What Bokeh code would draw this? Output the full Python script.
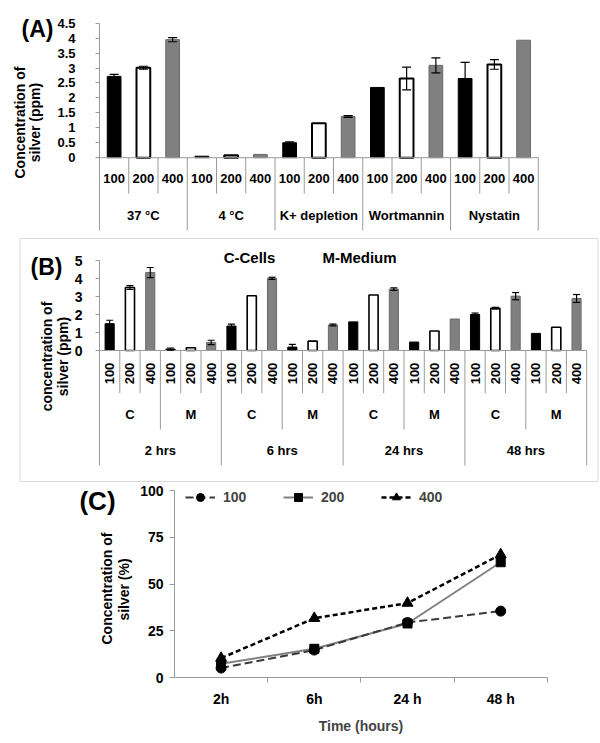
from math import pi
from bokeh.plotting import figure
from bokeh.models import (ColumnDataSource, Range1d, FixedTicker, NumeralTickFormatter,
                          Label, Legend, LegendItem, Whisker, TeeHead)
from bokeh.layouts import column
from bokeh.embed import file_html
from bokeh.resources import INLINE
from bokeh.core.properties import value

FONT = "Liberation Sans"
GRID = "#9a9a9a"
W = 600

# ---------------- Panel A data ----------------
a_groups = ["37 °C", "4 °C", "K+ depletion", "Wortmannin", "Nystatin"]
doses = ["100", "200", "400"]
a_100 = [2.72, 0.05, 0.50, 2.35, 2.65]
a_200 = [3.01, 0.08, 1.15, 2.65, 3.12]
a_400 = [3.95, 0.11, 1.38, 3.09, 3.93]
a_100_err = [0.07, 0.0, 0.03, 0.0, 0.54]
a_200_err = [0.05, 0.0, 0.0, 0.38, 0.16]
a_400_err = [0.07, 0.0, 0.03, 0.25, 0.0]
a_yticks = [0, 0.5, 1, 1.5, 2, 2.5, 3, 3.5, 4, 4.5]

# ---------------- Panel B data ----------------
b_times = ["2 hrs", "6 hrs", "24 hrs", "48 hrs"]
b_media = ["C", "M"]
b_c_100 = [1.49, 1.36, 1.59, 2.00]
b_c_200 = [3.50, 3.04, 3.08, 2.35]
b_c_400 = [4.33, 4.01, 3.41, 3.02]
b_m_100 = [0.08, 0.19, 0.47, 0.95]
b_m_200 = [0.15, 0.52, 1.08, 1.29]
b_m_400 = [0.45, 1.42, 1.75, 2.89]
b_c_100_err = [0.19, 0.10, 0.0, 0.08]
b_c_200_err = [0.10, 0.0, 0.0, 0.05]
b_c_400_err = [0.28, 0.06, 0.07, 0.20]
b_m_100_err = [0.06, 0.15, 0.0, 0.0]
b_m_200_err = [0.0, 0.0, 0.0, 0.0]
b_m_400_err = [0.12, 0.05, 0.0, 0.22]
b_yticks = [0, 1, 2, 3, 4, 5]
b_legend = ["C-Cells", "M-Medium"]

# ---------------- Panel C data ----------------
c_times = ["2h", "6h", "24 h", "48 h"]
c_100 = [5.2, 14.8, 29.5, 35.6]
c_200 = [7.5, 15.5, 29.0, 61.7]
c_400 = [10.5, 31.8, 39.9, 65.8]
c_yticks = [0, 25, 50, 75, 100]

FILL = {"100": "black", "200": "white", "400": "#808080"}
EDGE = {"100": "black", "200": "black", "400": "#6a6a6a"}


class Panel:
    """Pixel geometry of one panel: page top, height, pixel of data origin, px per unit."""
    def __init__(self, top, h, x0, xu, y0, yu):
        self.top, self.h, self.x0, self.xu, self.y0, self.yu = top, h, x0, xu, y0, yu

    def dx(self, px):
        return (px - self.x0) / self.xu

    def dy(self, py):
        return (self.y0 - (py - self.top)) / self.yu

    def fig(self, **kw):
        p = figure(width=W, height=self.h,
                   x_range=Range1d(self.dx(0), self.dx(W)),
                   y_range=Range1d(self.dy(self.top + self.h), self.dy(self.top)),
                   output_backend="svg", toolbar_location=None, min_border=0,
                   outline_line_color=None, background_fill_color="white",
                   border_fill_color="white", **kw)
        p.grid.visible = False
        return p

    def label(self, p, px, py, text, size, angle=0.0, bold=True):
        p.add_layout(Label(x=self.dx(px), y=self.dy(py), text=text, text_font=FONT,
                           text_font_size=f"{size}px",
                           text_font_style="bold" if bold else "normal",
                           text_align="center", text_baseline="middle", angle=angle,
                           text_color="black"))


def style_axis(ax, size, standoff, tick_out):
    ax.axis_line_color = GRID
    ax.major_tick_line_color = GRID
    ax.major_tick_out = tick_out
    ax.major_tick_in = 0
    ax.minor_tick_line_color = None
    ax.major_label_text_font = FONT
    ax.major_label_text_font_style = "bold"
    ax.major_label_text_font_size = f"{size}px"
    ax.major_label_standoff = standoff
    ax.major_label_text_color = "black"


def add_err(p, xs, tops, errs, head):
    ex, lo, hi = [], [], []
    for x, t, e in zip(xs, tops, errs):
        if e > 0:
            ex.append(x); lo.append(t - e); hi.append(t + e)
    if not ex:
        return
    src = ColumnDataSource(dict(x=ex, lo=lo, hi=hi))
    p.add_layout(Whisker(source=src, base="x", lower="lo", upper="hi", dimension="height",
                         line_color="black", line_width=1.2, level="annotation",
                         upper_head=TeeHead(size=head, line_color="black", line_width=1.2),
                         lower_head=TeeHead(size=head, line_color="black", line_width=1.2)))


def table_text(p, xs, y, texts, size, angle=0.0):
    p.text(x=xs, y=[y] * len(xs), text=texts, angle=angle, text_align="center",
           text_baseline="middle", text_font=value(FONT), text_font_style="bold",
           text_font_size=f"{size}px", text_color="black")


# ======================= Panel A =======================
PA = Panel(top=0, h=237, x0=99, xu=29.25, y0=157.2, yu=29.89)
nd = len(doses)
nA = len(a_groups) * nd
pA = PA.fig(x_axis_location=None)
a_vals = {"100": a_100, "200": a_200, "400": a_400}
a_errs = {"100": a_100_err, "200": a_200_err, "400": a_400_err}
for di, d in enumerate(doses):
    xs = [gi * nd + di + 0.5 for gi in range(len(a_groups))]
    pA.vbar(x=xs, top=a_vals[d], bottom=0, width=0.47, fill_color=FILL[d],
            line_color=EDGE[d], line_width=2 if d == "200" else 1)
    add_err(pA, xs, a_vals[d], a_errs[d], 9)

a_bottom = PA.dy(230)
sub_x = [i for i in range(1, nA) if i % nd]
grp_x = [i for i in range(nd, nA + 1, nd)]
pA.segment(x0=sub_x, y0=0, x1=sub_x, y1=PA.dy(193), line_color=GRID, line_width=1)
pA.segment(x0=grp_x, y0=0, x1=grp_x, y1=a_bottom, line_color=GRID, line_width=1)
pA.segment(x0=[0], y0=[0], x1=[nA], y1=[0], line_color=GRID, line_width=1)
table_text(pA, [i + 0.5 for i in range(nA)], PA.dy(178), doses * len(a_groups), 13)
table_text(pA, [gi * nd + nd / 2 for gi in range(len(a_groups))], PA.dy(215), a_groups, 13)

ya = pA.yaxis[0]
style_axis(ya, 13, 20, 4)
ya.ticker = FixedTicker(ticks=a_yticks)
ya.formatter = NumeralTickFormatter(format="0.[0]")
ya.fixed_location = 0
ya.bounds = (a_bottom, max(a_yticks))

PA.label(pA, 37, 28, "(A)", 23)
PA.label(pA, 19, 122, "Concentration of", 14, pi / 2)
PA.label(pA, 34, 122, "silver (ppm)", 14, pi / 2)

# ======================= Panel B =======================
PB = Panel(top=237, h=245, x0=99, xu=20.3, y0=113, yu=18.0)
nB = len(b_times) * len(b_media) * nd
pB = PB.fig(x_axis_location=None)
# light frame around panel B
pB.quad(left=[PB.dx(19.5)], right=[PB.dx(597.5)], top=[PB.dy(238)], bottom=[PB.dy(481)],
        fill_alpha=0, line_color="#d9d9d9", line_width=1)
b_vals = {("C", "100"): (b_c_100, b_c_100_err), ("C", "200"): (b_c_200, b_c_200_err),
          ("C", "400"): (b_c_400, b_c_400_err), ("M", "100"): (b_m_100, b_m_100_err),
          ("M", "200"): (b_m_200, b_m_200_err), ("M", "400"): (b_m_400, b_m_400_err)}
per_t = len(b_media) * nd
for mi, m in enumerate(b_media):
    for di, d in enumerate(doses):
        vals, errs = b_vals[(m, d)]
        xs = [ti * per_t + mi * nd + di + 0.5 for ti in range(len(b_times))]
        pB.vbar(x=xs, top=vals, bottom=0, width=0.45, fill_color=FILL[d],
                line_color=EDGE[d], line_width=1.6 if d == "200" else 1)
        add_err(pB, xs, vals, errs, 7)

b_bottom = PB.dy(465)
s1 = [i for i in range(1, nB) if i % nd]
s2 = [i for i in range(nd, nB) if i % per_t == nd]
s3 = [i for i in range(per_t, nB + 1, per_t)]
pB.segment(x0=s1, y0=0, x1=s1, y1=PB.dy(392.7), line_color=GRID, line_width=1)
pB.segment(x0=s2, y0=0, x1=s2, y1=PB.dy(429), line_color=GRID, line_width=1)
pB.segment(x0=s3, y0=0, x1=s3, y1=b_bottom, line_color=GRID, line_width=1)
pB.segment(x0=[0], y0=[0], x1=[nB], y1=[0], line_color=GRID, line_width=1)
table_text(pB, [i + 0.5 for i in range(nB)], PB.dy(373), doses * (nB // nd), 13, pi / 2)
table_text(pB, [k * nd + nd / 2 for k in range(nB // nd)], PB.dy(414),
           b_media * len(b_times), 13)
table_text(pB, [ti * per_t + per_t / 2 for ti in range(len(b_times))], PB.dy(450),
           b_times, 13)

yb = pB.yaxis[0]
style_axis(yb, 14, 13, 4)
yb.ticker = FixedTicker(ticks=b_yticks)
yb.fixed_location = 0
yb.bounds = (b_bottom, max(b_yticks))

PB.label(pB, 46, 266, "(B)", 23)
PB.label(pB, 249, 257, b_legend[0], 15)
PB.label(pB, 359, 257, b_legend[1], 15)
PB.label(pB, 46, 356, "concentration of", 14, pi / 2)
PB.label(pB, 62, 356, "silver (ppm)", 14, pi / 2)

# ======================= Panel C =======================
PC = Panel(top=482, h=258, x0=174, xu=93.2, y0=195.3, yu=1.873)
nC = len(c_times)
pC = PC.fig()
xs = [i + 0.5 for i in range(nC)]
l2 = pC.line(xs, c_200, line_color="#808080", line_width=2)
l1 = pC.line(xs, c_100, line_color="#3a3a3a", line_width=2, line_dash="8 4")
l3 = pC.line(xs, c_400, line_color="black", line_width=2.5, line_dash="5 3")
m1 = pC.scatter(xs, c_100, marker="circle", size=10, fill_color="black", line_color="black")
m2 = pC.scatter(xs, c_200, marker="square", size=9, fill_color="black", line_color="black")
m3 = pC.scatter(xs, c_400, marker="triangle", size=11, fill_color="black", line_color="black")

yc = pC.yaxis[0]
style_axis(yc, 14, 6, 5)
yc.ticker = FixedTicker(ticks=c_yticks)
yc.fixed_location = 0
yc.bounds = (0, max(c_yticks))

xc = pC.xaxis[0]
style_axis(xc, 14, 8, 0)
xc.major_tick_line_color = None
xc.ticker = FixedTicker(ticks=xs, minor_ticks=list(range(1, nC + 1)))
xc.minor_tick_line_color = GRID
xc.minor_tick_out = 5
xc.minor_tick_in = 0
xc.major_label_overrides = {x: t for x, t in zip(xs, c_times)}
xc.axis_label = "Time (hours)"
xc.axis_label_text_font = FONT
xc.axis_label_text_font_style = "bold"
xc.axis_label_text_font_size = "14px"
xc.axis_label_standoff = 8
xc.fixed_location = 0
xc.bounds = (0, nC)

legend = Legend(items=[LegendItem(label="100", renderers=[l1, m1]),
                       LegendItem(label="200", renderers=[l2, m2]),
                       LegendItem(label="400", renderers=[l3, m3])],
                orientation="horizontal", location=(185, PC.h - (507 - PC.top)),
                glyph_width=30, glyph_height=20, label_standoff=8, label_width=60,
                label_height=20, spacing=0, padding=0, margin=0, border_line_color=None,
                background_fill_alpha=0, label_text_font=FONT,
                label_text_font_style="bold", label_text_font_size="14px")
pC.add_layout(legend)

PC.label(pC, 97, 500, "(C)", 26)
PC.label(pC, 106, 588, "Concentration of", 14, pi / 2)
PC.label(pC, 123, 589, "silver (%)", 14, pi / 2)

layout = column(pA, pB, pC, spacing=0)
open("out.html", "w").write(file_html(layout, INLINE))
